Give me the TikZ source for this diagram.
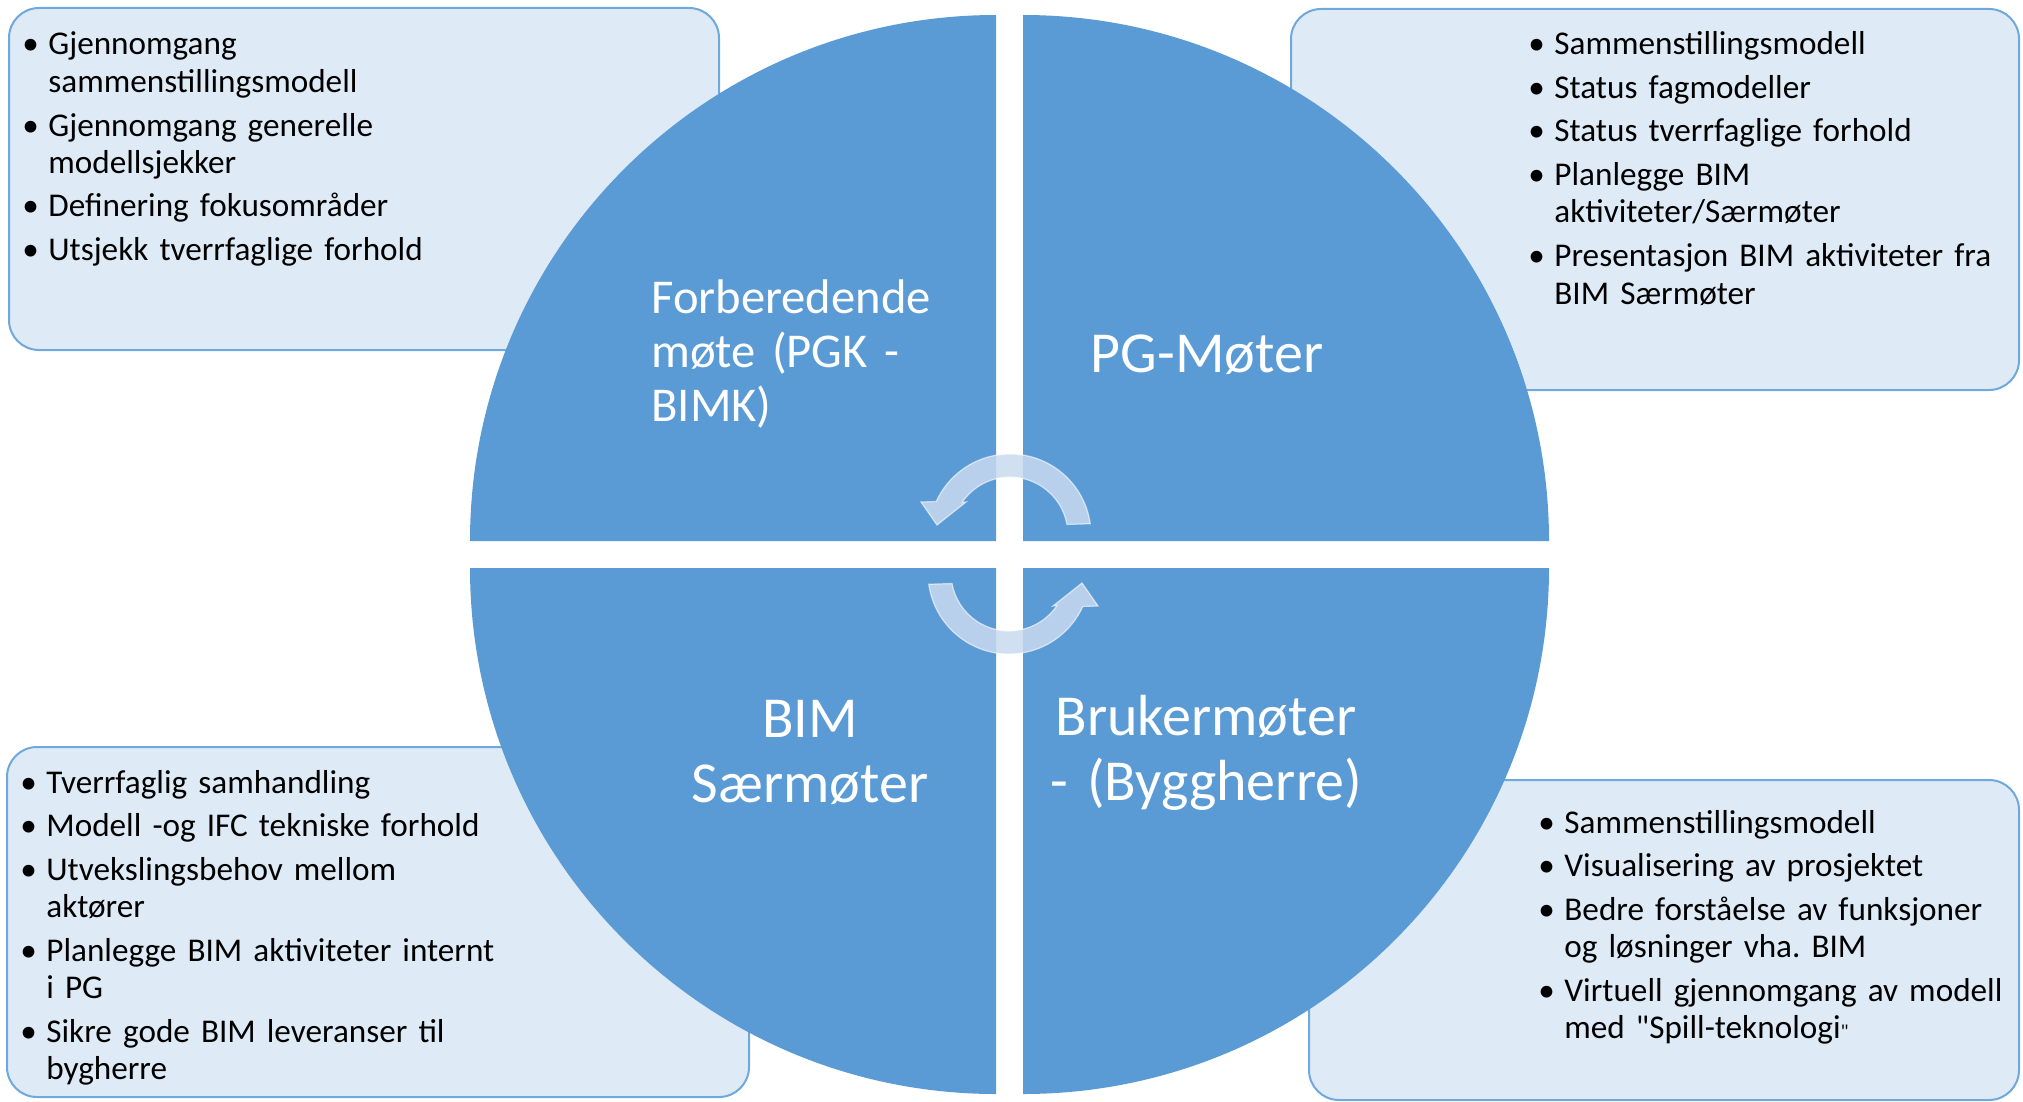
\documentclass[tikz,border=0pt]{standalone}
\usepackage{fontspec}
\setmainfont{Carlito}[Ligatures=TeXOff]
\frenchspacing
\definecolor{circblue}{HTML}{5B9BD5}
\definecolor{boxfill}{HTML}{DEEBF7}
\definecolor{boxline}{HTML}{6FA8DC}
\definecolor{arrowfill}{HTML}{C9DAEF}
\newcommand\bul{\makebox[13pt][l]{•}}
\newcommand\ind{\hspace*{13pt}}
\begin{document}
\begin{tikzpicture}[x=0.5pt,y=-0.5pt,
  infobox/.style={draw=boxline, fill=boxfill, line width=1pt, rounded corners=15pt},
  quarter/.style={fill=circblue},
  itemtext/.style={anchor=base west, inner sep=0pt, text width=330pt, align=left,
    font=\fontsize{16.6}{18.75}\selectfont},
  biglabel/.style={text=white, inner sep=0pt, font=\fontsize{29}{32.5}\selectfont},
  cyclearrow/.style={fill=arrowfill, fill opacity=0.85, draw=white, draw opacity=0.6, line width=0.6pt}]
\useasboundingbox (0,0) rectangle (2023,1102);

% detail boxes behind the circle
\draw[infobox] (9,8) rectangle (719,350);
\draw[infobox] (1291,9) rectangle (2019,390);
\draw[infobox] (7,747) rectangle (749,1097);
\draw[infobox] (1309,780) rectangle (2019,1100);

% the four quarters of the split circle
\fill[quarter] (996,541) -- (996,15) arc[start angle=-90, end angle=-180, radius=526] -- cycle;
\fill[quarter] (1023,541) -- (1023,15) arc[start angle=-90, end angle=0, radius=526] -- cycle;
\fill[quarter] (996,568) -- (470,568) arc[start angle=180, end angle=90, radius=526] -- cycle;
\fill[quarter] (1023,568) -- (1549,568) arc[start angle=0, end angle=90, radius=526] -- cycle;

% circular arrows in the middle
\def\arrowpath{
  ([shift={(1010,535)}] -8:81) arc[start angle=-8, end angle=-155.6, radius=81]
  -- (921,502) -- (937,525) -- (966,502)
  -- ([shift={(1010,535)}] -146:58) arc[start angle=-146, end angle=-10.5, radius=58] -- cycle}
\path[cyclearrow] \arrowpath;
\path[cyclearrow, rotate around={180:(1009.5,554)}] \arrowpath;

% quarter labels
\node[biglabel, anchor=base west, text width=200pt, align=left,
  font=\fontsize{24.3}{27}\selectfont] (prep) at (651,313)
  {Forberedende\\møte (PGK -\\BIMK)};
\node[biglabel, anchor=base] (pg) at (1207,372) {PG-Møter};
\node[biglabel, anchor=base, text width=200pt, align=center] (bim) at (810,737) {BIM\\Særmøter};
\node[biglabel, anchor=base, text width=200pt, align=center] (user) at (1206,735) {Brukermøter\\- (Byggherre)};

% bullet lists
\node[itemtext] (tl) at (22,55) {%
  \bul Gjennomgang\\ \ind sammenstillingsmodell\\[3pt]
  \bul Gjennomgang generelle\\ \ind modellsjekker\\[3pt]
  \bul Definering fokusområder\\[3pt]
  \bul Utsjekk tverrfaglige forhold};
\node[itemtext] (tr) at (1528,55) {%
  \bul Sammenstillingsmodell\\[3pt]
  \bul Status fagmodeller\\[3pt]
  \bul Status tverrfaglige forhold\\[3pt]
  \bul Planlegge BIM\\ \ind aktiviteter/Særmøter\\[3pt]
  \bul Presentasjon BIM aktiviteter fra\\ \ind BIM Særmøter};
\node[itemtext] (bl) at (20,793) {%
  \bul Tverrfaglig samhandling\\[3pt]
  \bul Modell -og IFC tekniske forhold\\[3pt]
  \bul Utvekslingsbehov mellom\\ \ind aktører\\[3pt]
  \bul Planlegge BIM aktiviteter internt\\ \ind i PG\\[3pt]
  \bul Sikre gode BIM leveranser til\\ \ind bygherre};
\node[itemtext] (br) at (1538,833) {%
  \bul Sammenstillingsmodell\\[3pt]
  \bul Visualisering av prosjektet\\[3pt]
  \bul Bedre forståelse av funksjoner\\ \ind og løsninger vha. BIM\\[3pt]
  \bul Virtuell gjennomgang av modell\\ \ind med "Spill-teknologi{\fontsize{10}{10}\selectfont"}};
\end{tikzpicture}
\end{document}
